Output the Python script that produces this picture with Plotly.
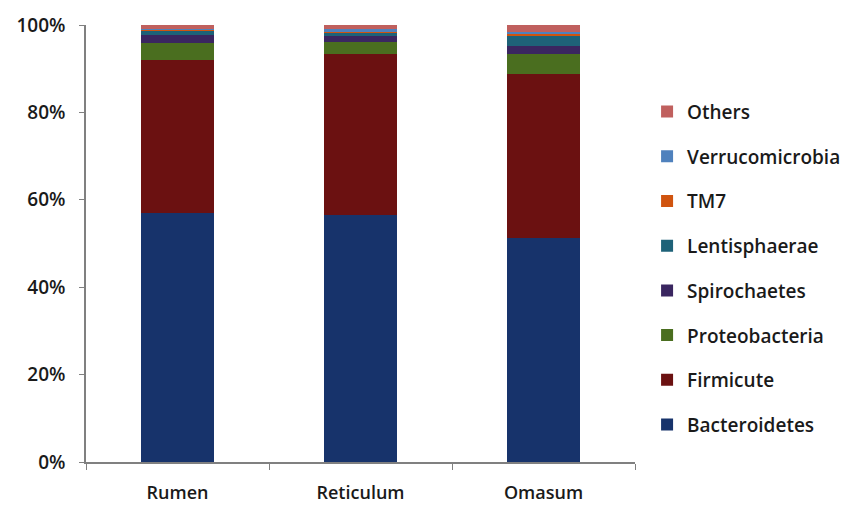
import plotly.graph_objects as go

# Compartments of the ruminant stomach
categories = ["Rumen", "Reticulum", "Omasum"]

# Relative abundance (%) of each phylum, bottom of the stack first
bacteroidetes = [56.9, 56.6, 51.3]
firmicute = [35.1, 36.7, 37.5]
proteobacteria = [3.8, 2.8, 4.5]
spirochaetes = [1.9, 1.3, 2.0]
lentisphaerae = [1.0, 0.9, 2.4]
tm7 = [0.2, 0.2, 0.3]
verrucomicrobia = [0.3, 0.5, 0.4]
others = [0.8, 1.0, 1.6]

series_names = ["Bacteroidetes", "Firmicute", "Proteobacteria", "Spirochaetes",
                "Lentisphaerae", "TM7", "Verrucomicrobia", "Others"]
series_values = [bacteroidetes, firmicute, proteobacteria, spirochaetes,
                 lentisphaerae, tm7, verrucomicrobia, others]
series_colors = ["#17336B", "#6B1111", "#4A6E1F", "#3A2660",
                 "#1E6278", "#D0540F", "#4F81BD", "#C0605E"]

FONT = "Open Sans"
TEXT = "#1a1a1a"

fig = go.Figure()
for i, (name, vals, col) in enumerate(zip(series_names, series_values, series_colors)):
    fig.add_trace(go.Bar(
        x=categories, y=vals, name=name, legendgroup=name,
        legendrank=100 - i,
        marker=dict(color=col, line=dict(width=0)),
    ))

fig.update_layout(
    barmode="stack",
    bargap=0.6,
    width=861, height=509,
    margin=dict(l=86, r=226, t=25, b=47),
    paper_bgcolor="white", plot_bgcolor="white",
    font=dict(family=FONT, size=17, color=TEXT),
    legend=dict(
        traceorder="grouped",
        tracegroupgap=17,
        x=1.022, xanchor="left", y=0.845, yanchor="top",
        font=dict(family=FONT, size=19, color=TEXT, weight=600),
        itemwidth=30,
    ),
    showlegend=True,
)

fig.update_yaxes(
    range=[0, 100],
    tickvals=[0, 20, 40, 60, 80, 100],
    ticktext=["0%", "20%", "40%", "60%", "80%", "100%"],
    ticks="outside", ticklen=5, tickcolor="#808080",
    showline=True, linecolor="#808080", linewidth=1.5,
    showgrid=False, zeroline=False,
    automargin=False,
    ticklabelstandoff=10,
    tickfont=dict(family=FONT, size=19, color=TEXT, weight=600),
)
fig.update_xaxes(
    ticks="outside", ticklen=6, tickcolor="#808080",
    tickson="boundaries",
    showline=True, linecolor="#808080", linewidth=1.5,
    showgrid=False,
    automargin=False,
    ticklabelstandoff=14,
    tickfont=dict(family=FONT, size=18, color=TEXT, weight=600),
)

fig.write_html("out.html")
